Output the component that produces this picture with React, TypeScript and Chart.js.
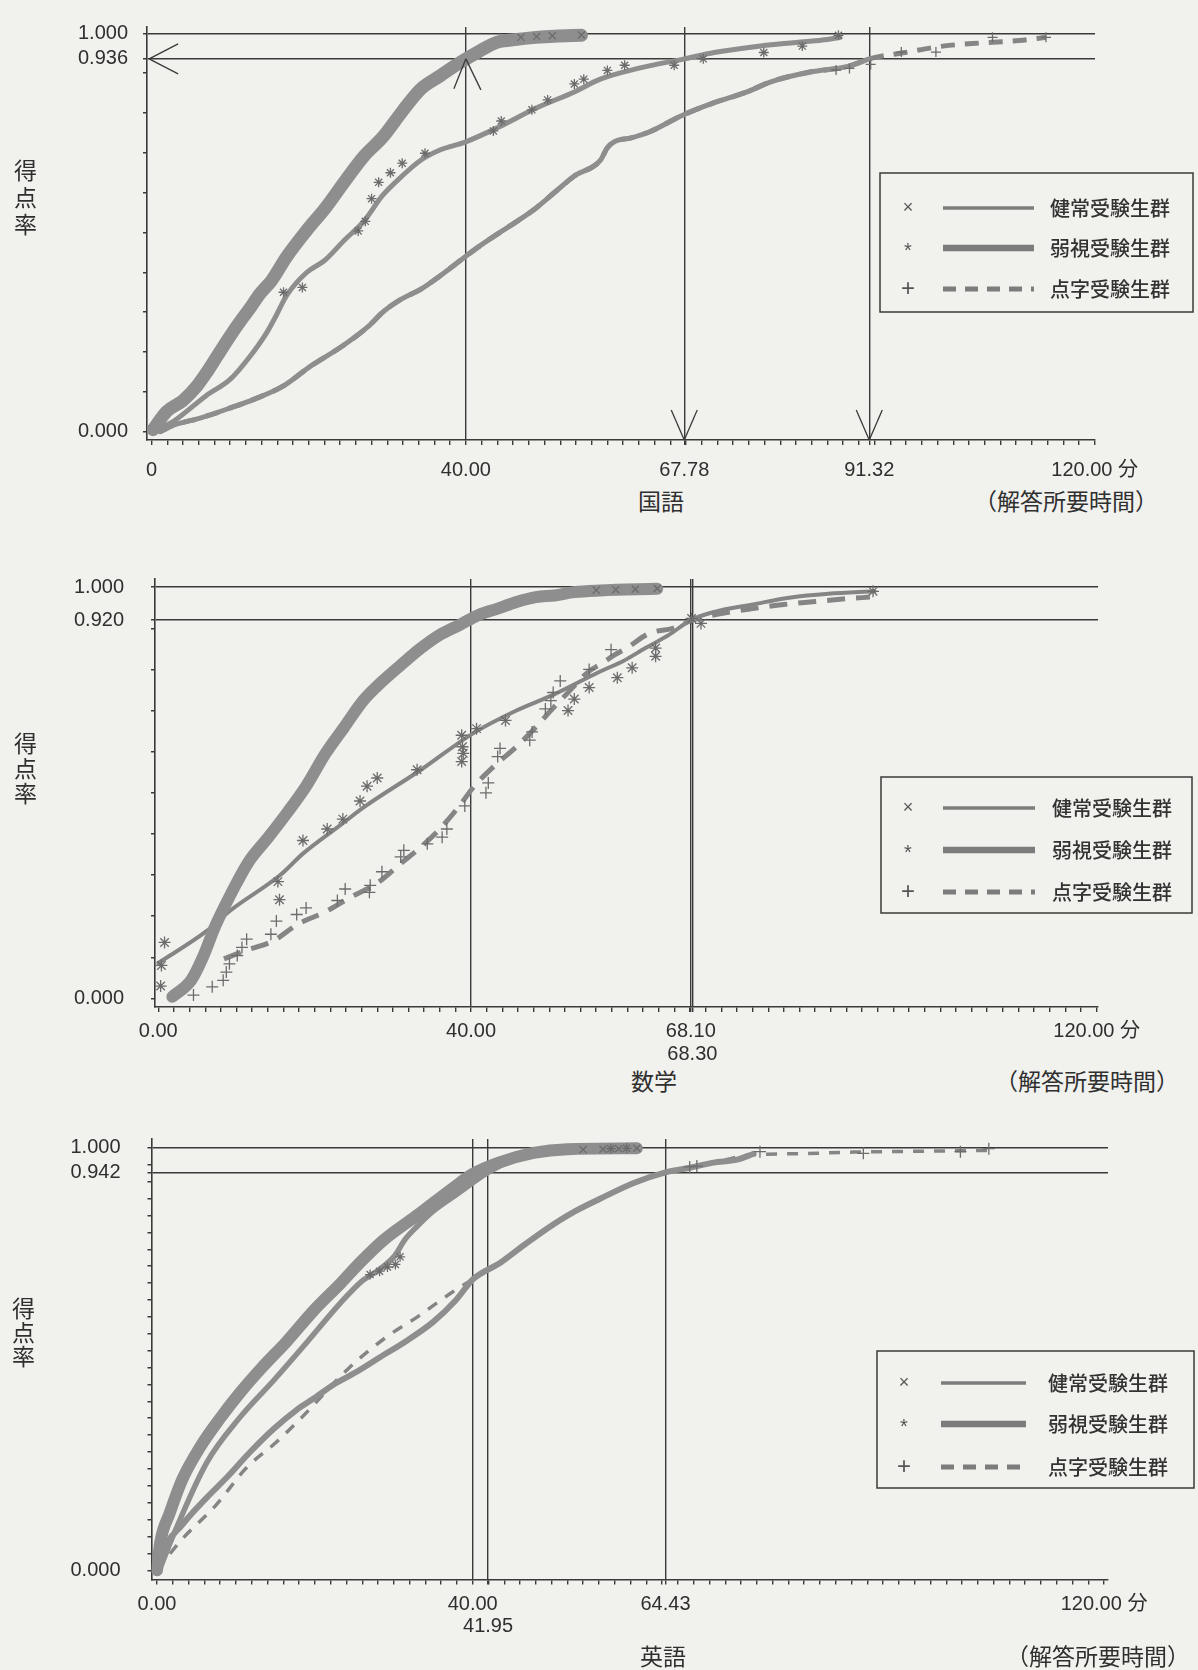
import React, { useEffect, useRef } from 'react';
import { Chart, registerables } from 'chart.js';

Chart.register(...registerables);

type Pt = [number, number];

// ---------- shared text ----------
const GROUP_NAMES = ['健常受験生群', '弱視受験生群', '点字受験生群'];
const GROUP_GLYPHS = ['×', '*', '+'];
const Y_TITLE = '得点率';
const UNIT_LABEL = '（解答所要時間）';

// ---------- 国語 ----------
const kokugoHealthy: Pt[] = [
  [0.2, 0.005], [1.9, 0.05], [4.0, 0.078], [5.8, 0.115], [7.0, 0.148], [8.3, 0.188], [10.0, 0.24],
  [11.3, 0.277], [12.5, 0.309], [13.8, 0.346], [15.3, 0.38], [17.2, 0.439], [19.7, 0.504], [22.1, 0.561],
  [24.5, 0.626], [27.0, 0.691], [29.4, 0.739], [31.9, 0.804], [34.3, 0.861], [36.7, 0.893], [39.2, 0.926],
  [41.6, 0.954], [44.0, 0.978], [46.5, 0.985], [48.9, 0.99], [51.3, 0.993], [54.7, 0.995],
];
const kokugoHealthyMarks: Pt[] = [[47.0, 0.99], [49.0, 0.992], [51.0, 0.994], [54.7, 0.996]];
const kokugoLowVision: Pt[] = [
  [1.0, 0.008], [2.8, 0.026], [7.0, 0.091], [10.0, 0.131], [12.5, 0.188], [14.7, 0.25], [15.9, 0.293],
  [17.2, 0.342], [19.7, 0.399], [22.1, 0.431], [24.5, 0.48], [27.0, 0.528], [29.4, 0.593], [31.9, 0.642],
  [34.3, 0.682], [36.7, 0.707], [39.9, 0.727], [44.0, 0.763], [48.9, 0.812], [53.8, 0.853], [57.1, 0.885],
  [61.9, 0.912], [67.78, 0.936], [71.6, 0.952], [76.5, 0.966], [81.3, 0.976], [86.2, 0.985], [87.6, 0.99],
];
const kokugoLowVisionMarks: Pt[] = [
  [16.8, 0.35], [19.2, 0.362], [26.3, 0.504], [27.2, 0.528], [28.0, 0.585], [28.9, 0.626], [30.4, 0.65],
  [31.9, 0.674], [34.8, 0.699], [43.5, 0.755], [44.5, 0.78], [48.4, 0.808], [50.4, 0.833], [53.8, 0.873],
  [55.0, 0.885], [58.0, 0.907], [60.2, 0.92], [66.5, 0.92], [70.2, 0.936], [77.9, 0.952], [82.8, 0.968],
  [87.4, 0.995],
];
const kokugoBraille: Pt[] = [
  [1.1, 0.0], [2.8, 0.016], [6.2, 0.034], [10.4, 0.062], [12.1, 0.074], [16.8, 0.115], [20.2, 0.164],
  [24.3, 0.215], [27.4, 0.261], [29.6, 0.303], [31.9, 0.334], [34.3, 0.358], [36.7, 0.391], [39.9, 0.439],
  [41.6, 0.464], [44.0, 0.496], [46.5, 0.528], [48.9, 0.561], [51.3, 0.601], [53.8, 0.642], [57.1, 0.681],
  [58.0, 0.713], [59.0, 0.729], [60.9, 0.737], [63.4, 0.753], [67.5, 0.794], [71.6, 0.826], [75.5, 0.851],
  [78.9, 0.879], [83.8, 0.903], [88.6, 0.917], [91.32, 0.936], [95.9, 0.952], [100.7, 0.968],
  [105.6, 0.976], [110.4, 0.982], [113.8, 0.99],
];
const kokugoBrailleMarks: Pt[] = [
  [87.1, 0.908], [88.8, 0.912], [91.5, 0.922], [95.4, 0.953], [99.8, 0.953], [107.0, 0.99], [113.8, 0.99],
];
const kokugoXTicks = [0, 40, 67.78, 91.32, 120];
const kokugoXLabels: (string | string[])[] = ['0', '40.00', '67.78', '91.32', '120.00 分'];
const kokugoVLines = [40, 67.78, 91.32];
const kokugoYTicks = [0, 0.936, 1];
const kokugoYLabels = ['0.000', '0.936', '1.000'];
const kokugoHLines = [0.936, 1];

// ---------- 数学 ----------
const sugakuHealthy: Pt[] = [
  [1.8, 0.004], [4.2, 0.044], [5.7, 0.1], [7.2, 0.172], [8.6, 0.228], [10.0, 0.28], [11.7, 0.336],
  [14.0, 0.39], [16.5, 0.452], [18.9, 0.516], [21.4, 0.596], [23.8, 0.66], [26.2, 0.724], [28.7, 0.772],
  [31.1, 0.812], [33.6, 0.852], [36.0, 0.884], [38.5, 0.908], [40.9, 0.932], [43.4, 0.948], [45.8, 0.964],
  [48.3, 0.976], [50.7, 0.98], [53.2, 0.988], [56.5, 0.992], [63.8, 0.996],
];
const sugakuHealthyMarks: Pt[] = [[56.0, 0.993], [58.5, 0.994], [61.0, 0.995], [63.8, 0.997]];
const sugakuLowVision: Pt[] = [
  [0.0, 0.086], [6.2, 0.164], [9.1, 0.212], [15.6, 0.3], [18.5, 0.352], [23.2, 0.42], [26.3, 0.465],
  [33.6, 0.556], [40.2, 0.644], [45.8, 0.7], [50.7, 0.74], [56.5, 0.795], [59.4, 0.82], [62.3, 0.852],
  [65.3, 0.884], [68.1, 0.92], [71.1, 0.94], [76.0, 0.958], [80.9, 0.975], [85.7, 0.984], [91.6, 0.99],
];
const sugakuLowVisionMarks: Pt[] = [
  [0.3, 0.03], [0.4, 0.08], [0.8, 0.136], [15.3, 0.284], [15.5, 0.24], [18.5, 0.384], [21.6, 0.412],
  [23.6, 0.436], [25.8, 0.48], [26.7, 0.516], [28.0, 0.536], [33.1, 0.556], [38.8, 0.64], [38.9, 0.612],
  [39.0, 0.596], [38.8, 0.576], [40.7, 0.656], [44.4, 0.676], [52.4, 0.7], [53.2, 0.728], [55.1, 0.756],
  [58.7, 0.78], [60.6, 0.804], [63.6, 0.832], [63.6, 0.852], [68.2, 0.924], [69.4, 0.912], [91.4, 0.99],
];
const sugakuBraille: Pt[] = [
  [8.4, 0.096], [11.1, 0.116], [14.7, 0.14], [17.8, 0.18], [21.3, 0.21], [24.5, 0.245], [28.2, 0.283],
  [31.0, 0.328], [33.7, 0.37], [36.0, 0.412], [38.5, 0.468], [40.4, 0.516], [42.9, 0.564], [45.8, 0.612],
  [48.3, 0.66], [50.2, 0.7], [52.2, 0.74], [55.1, 0.796], [56.5, 0.812], [58.4, 0.836], [59.9, 0.852],
  [62.8, 0.888], [65.8, 0.9], [68.3, 0.92], [72.0, 0.936], [76.0, 0.948], [80.0, 0.958], [84.0, 0.965],
  [88.0, 0.972], [91.0, 0.976],
];
const sugakuBrailleMarks: Pt[] = [
  [4.5, 0.008], [6.9, 0.028], [8.3, 0.044], [8.7, 0.064], [9.1, 0.084], [10.1, 0.104], [10.7, 0.124],
  [11.3, 0.144], [14.4, 0.156], [15.1, 0.188], [17.7, 0.204], [18.9, 0.22], [22.9, 0.238], [23.9, 0.266],
  [27.0, 0.258], [27.1, 0.275], [28.6, 0.308], [31.0, 0.344], [31.4, 0.36], [34.4, 0.376], [36.3, 0.392],
  [36.9, 0.412], [39.2, 0.468], [41.9, 0.5], [42.2, 0.524], [43.4, 0.588], [43.7, 0.608], [47.5, 0.628],
  [47.8, 0.648], [49.5, 0.704], [50.2, 0.724], [50.5, 0.744], [51.4, 0.772], [55.1, 0.8], [57.9, 0.848],
];
const sugakuXTicks = [0, 40, 68.1, 68.3, 120];
const sugakuXLabels: (string | string[])[] = ['0.00', '40.00', '68.10', ['', '68.30'], '120.00 分'];
const sugakuVLines = [40, 68.1, 68.3];
const sugakuYTicks = [0, 0.92, 1];
const sugakuYLabels = ['0.000', '0.920', '1.000'];
const sugakuHLines = [0.92, 1];

// ---------- 英語 ----------
const eigoHealthy: Pt[] = [
  [0.0, 0.0], [0.4, 0.065], [1.6, 0.135], [3.2, 0.215], [5.5, 0.293], [8.0, 0.36], [10.5, 0.42],
  [13.3, 0.48], [16.5, 0.543], [19.9, 0.616], [23.3, 0.68], [25.7, 0.728], [28.6, 0.78], [33.3, 0.845],
  [37.5, 0.905], [40.0, 0.938], [43.3, 0.965], [47.7, 0.988], [52.0, 0.997], [60.8, 0.999],
];
const eigoHealthyMarks: Pt[] = [[54.0, 0.996], [56.5, 0.997], [58.5, 0.998], [60.8, 0.999]];
const eigoLowVision: Pt[] = [
  [0.3, 0.0], [2.0, 0.08], [6.3, 0.255], [10.5, 0.362], [14.8, 0.45], [19.0, 0.54], [23.2, 0.632],
  [26.0, 0.685], [28.0, 0.71], [30.0, 0.742], [31.5, 0.785], [33.0, 0.815], [35.0, 0.85], [38.0, 0.89],
  [41.95, 0.942], [45.0, 0.97], [50.0, 0.99], [55.0, 0.997], [59.5, 1.0],
];
const eigoLowVisionMarks: Pt[] = [
  [27.0, 0.7], [28.2, 0.708], [29.2, 0.718], [30.2, 0.724], [30.8, 0.742], [57.5, 0.998], [59.5, 0.999],
];
const eigoBraille: Pt[] = [
  [0.0, 0.0], [0.4, 0.031], [3.3, 0.11], [6.3, 0.172], [8.8, 0.219], [11.8, 0.28], [14.8, 0.335],
  [17.7, 0.38], [19.8, 0.406], [22.4, 0.44], [25.3, 0.47], [28.3, 0.505], [31.6, 0.543], [35.0, 0.588],
  [37.8, 0.638], [40.1, 0.69], [43.5, 0.728], [46.5, 0.77], [49.5, 0.81], [52.5, 0.845], [56.2, 0.88],
  [60.4, 0.917], [64.43, 0.942], [67.5, 0.953], [70.5, 0.965], [73.5, 0.972], [75.6, 0.986],
];
const eigoBrailleFit: Pt[] = [
  [0.0, 0.0], [3.0, 0.07], [7.5, 0.155], [11.3, 0.242], [15.1, 0.303], [18.5, 0.365], [24.1, 0.475],
  [28.9, 0.55], [33.0, 0.6], [37.3, 0.657], [40.1, 0.69], [43.5, 0.728], [46.5, 0.77], [49.5, 0.81],
  [52.5, 0.845], [56.2, 0.88], [60.4, 0.917], [64.43, 0.942], [67.5, 0.953], [70.5, 0.965], [75.6, 0.984],
  [81.1, 0.986], [88.3, 0.99], [96.3, 0.992], [105.4, 0.994],
];
const eigoBrailleMarks: Pt[] = [
  [67.5, 0.955], [68.4, 0.957], [76.4, 0.991], [89.5, 0.987], [101.8, 0.991], [105.4, 0.998],
];
const eigoXTicks = [0, 40, 41.95, 64.43, 120];
const eigoXLabels: (string | string[])[] = ['0.00', '40.00', ['', '41.95'], '64.43', '120.00 分'];
const eigoVLines = [40, 41.95, 64.43];
const eigoYTicks = [0, 0.942, 1];
const eigoYLabels = ['0.000', '0.942', '1.000'];
const eigoHLines = [0.942, 1];

// ---------- styling ----------
const BG = '#f1f1ee';
const AXIS = '#3a3a3a';
const TEXT = '#2f2f2f';
const BAND = '#8e8e8e';
const CURVE = '#858585';
const MARK = '#6c6c6c';
const NUM_FONT = "'Liberation Sans', Arial, 'Noto Sans CJK JP', sans-serif";
const JP_FONT = "'Noto Sans CJK JP', 'Noto Sans CJK SC', sans-serif";
const W = 1198;

const LEGEND_STYLES = [
  { width: 3.5, dash: [] as number[] },
  { width: 6.5, dash: [] as number[] },
  { width: 5, dash: [13, 9] },
];

interface Layout {
  top: number; height: number;
  area: { left: number; top: number; right: number; bottom: number };
  xMin: number; xMax: number; yMin: number; yMax: number; yStep: number;
  xPad: number; xLineHeight: number; yPad: number;
  legend: { x: number; y: number; w: number; h: number; rows: number[]; markX: number; lineX1: number; lineX2: number; textX: number };
  yTitle: { x: number; top: number; spacing: number };
  title: { x: number; y: number }; unit: { x: number; y: number };
}

const LAYOUTS: Layout[] = [
  {
    top: 0, height: 480, area: { left: 147, top: 14, right: 1095, bottom: 440 },
    xMin: -0.57, xMax: 120.04, yMin: -0.021, yMax: 1.016, yStep: 0.1, xPad: 14, xLineHeight: 1.1, yPad: 15,
    legend: { x: 880, y: 173, w: 313, h: 139, rows: [208, 248, 289], markX: 908, lineX1: 943, lineX2: 1034, textX: 1050 },
    yTitle: { x: 25, top: 158.5, spacing: 3.7 }, title: { x: 661, y: 500 }, unit: { x: 1066, y: 500 },
  },
  {
    top: 540, height: 520, area: { left: 155, top: 33, right: 1098, bottom: 467 },
    xMin: -0.42, xMax: 120.17, yMin: -0.021, yMax: 1.02, yStep: 0.1, xPad: 8, xLineHeight: 1.15, yPad: 27,
    legend: { x: 881, y: 237, w: 311, h: 136, rows: [268, 310, 352], markX: 908, lineX1: 943, lineX2: 1035, textX: 1052 },
    yTitle: { x: 25, top: 731.5, spacing: 2 }, title: { x: 654, y: 1080 }, unit: { x: 1087, y: 1080 },
  },
  {
    top: 1100, height: 540, area: { left: 151.5, top: 32, right: 1108, bottom: 479.6 },
    xMin: -0.7, xMax: 120.5, yMin: -0.022, yMax: 1.021, yStep: 0.04, xPad: 9, xLineHeight: 1.1, yPad: 27,
    legend: { x: 877, y: 251, w: 317, h: 137, rows: [283, 324, 367], markX: 904, lineX1: 941, lineX2: 1026, textX: 1048 },
    yTitle: { x: 23, top: 1296.5, spacing: 1 }, title: { x: 663, y: 1655 }, unit: { x: 1098, y: 1655 },
  },
];

const xy = (pts: Pt[]) => pts.map(([x, y]) => ({ x, y }));

function lineDs(label: string, pts: Pt[], width: number, color: string, dash: number[] = []) {
  return {
    label, data: xy(pts), borderColor: color, backgroundColor: color, borderWidth: width,
    borderDash: dash, pointRadius: 0, fill: false, cubicInterpolationMode: 'monotone',
    borderCapStyle: dash.length ? 'butt' : 'round', borderJoinStyle: 'round',
  };
}
function markDs(label: string, pts: Pt[], style: string, radius: number) {
  return {
    label, data: xy(pts), showLine: false, pointStyle: style, pointRadius: radius,
    pointBorderColor: MARK, pointBackgroundColor: MARK, pointBorderWidth: 1.3,
    borderColor: MARK, backgroundColor: MARK,
  };
}

function makeTicks(step: number, max: number, extra: number[]) {
  const vals: number[] = [];
  const n = Math.round(max / step);
  for (let i = 0; i <= n; i++) vals.push(Math.round(i * step * 1000) / 1000);
  extra.forEach((e) => { if (!vals.some((v) => Math.abs(v - e) < 1e-6)) vals.push(e); });
  return vals.sort((a, b) => a - b);
}
const lookup = (vals: number[], labels: (string | string[])[]) => (v: number) => {
  const i = vals.findIndex((t) => Math.abs(t - v) < 1e-6);
  return i >= 0 ? labels[i] : '';
};
const isIn = (list: number[], v: number | undefined) =>
  v !== undefined && list.some((l) => Math.abs(l - v) < 1e-6);

interface PanelDef {
  subject: string;
  datasets: any[];
  xTicks: number[]; xLabels: (string | string[])[]; vLines: number[];
  yTicks: number[]; yLabels: string[]; hLines: number[];
  arrows: { x: number; y: number | null; dir: 'left' | 'up' | 'down' }[];
}

const PANELS: PanelDef[] = [
  {
    subject: '国語',
    datasets: [
      markDs('健常 marks', kokugoHealthyMarks, 'crossRot', 5),
      markDs('弱視 marks', kokugoLowVisionMarks, 'star', 5),
      markDs('点字 marks', kokugoBrailleMarks, 'cross', 5),
      lineDs(GROUP_NAMES[0], kokugoHealthy, 13, BAND),
      lineDs(GROUP_NAMES[1], kokugoLowVision, 5, BAND),
      lineDs(GROUP_NAMES[2] + ' band', kokugoBraille.filter((p) => p[0] <= 91.32), 5, BAND),
      lineDs(GROUP_NAMES[2], kokugoBraille, 5, CURVE, [14, 10]),
    ],
    xTicks: kokugoXTicks, xLabels: kokugoXLabels, vLines: kokugoVLines,
    yTicks: kokugoYTicks, yLabels: kokugoYLabels, hLines: kokugoHLines,
    arrows: [
      { x: -0.3, y: 0.936, dir: 'left' },
      { x: 40, y: 0.936, dir: 'up' },
      { x: 67.78, y: null, dir: 'down' },
      { x: 91.32, y: null, dir: 'down' },
    ],
  },
  {
    subject: '数学',
    datasets: [
      markDs('健常 marks', sugakuHealthyMarks, 'crossRot', 5),
      markDs('弱視 marks', sugakuLowVisionMarks, 'star', 6),
      markDs('点字 marks', sugakuBrailleMarks, 'cross', 6),
      lineDs(GROUP_NAMES[0], sugakuHealthy, 12, BAND),
      lineDs(GROUP_NAMES[1], sugakuLowVision, 4, CURVE),
      lineDs(GROUP_NAMES[2], sugakuBraille, 5, CURVE, [18, 11]),
    ],
    xTicks: sugakuXTicks, xLabels: sugakuXLabels, vLines: sugakuVLines,
    yTicks: sugakuYTicks, yLabels: sugakuYLabels, hLines: sugakuHLines,
    arrows: [],
  },
  {
    subject: '英語',
    datasets: [
      markDs('健常 marks', eigoHealthyMarks, 'crossRot', 5),
      markDs('弱視 marks', eigoLowVisionMarks, 'star', 5),
      markDs('点字 marks', eigoBrailleMarks, 'cross', 6),
      lineDs(GROUP_NAMES[0], eigoHealthy, 12, BAND),
      lineDs(GROUP_NAMES[1], eigoLowVision, 5.5, BAND),
      lineDs(GROUP_NAMES[2] + ' band', eigoBraille, 6, BAND),
      lineDs(GROUP_NAMES[2], eigoBrailleFit, 3.5, CURVE, [11, 10]),
    ],
    xTicks: eigoXTicks, xLabels: eigoXLabels, vLines: eigoVLines,
    yTicks: eigoYTicks, yLabels: eigoYLabels, hLines: eigoHLines,
    arrows: [],
  },
];

function legendPlugin(L: Layout) {
  return {
    id: 'groupLegend',
    afterDraw(chart: any) {
      const ctx = chart.ctx;
      const g = L.legend;
      ctx.save();
      ctx.strokeStyle = AXIS;
      ctx.lineWidth = 1.5;
      ctx.strokeRect(g.x, g.y, g.w, g.h);
      GROUP_NAMES.forEach((name, i) => {
        const ry = g.rows[i];
        ctx.fillStyle = '#555';
        ctx.textAlign = 'center';
        ctx.textBaseline = 'middle';
        ctx.font = `${i === 2 ? 24 : i === 1 ? 20 : 18}px ${NUM_FONT}`;
        ctx.fillText(GROUP_GLYPHS[i], g.markX, ry + (i === 1 ? 3 : 0));
        const st = LEGEND_STYLES[i];
        ctx.strokeStyle = '#7c7c7c';
        ctx.lineWidth = st.width;
        ctx.setLineDash(st.dash);
        ctx.beginPath();
        ctx.moveTo(g.lineX1, ry);
        ctx.lineTo(g.lineX2, ry);
        ctx.stroke();
        ctx.setLineDash([]);
        ctx.fillStyle = '#333';
        ctx.textAlign = 'left';
        ctx.font = `500 20px ${JP_FONT}`;
        ctx.fillText(name, g.textX, ry);
      });
      ctx.restore();
    },
  };
}

function arrowPlugin(arrows: PanelDef['arrows']) {
  return {
    id: 'refArrows',
    afterDraw(chart: any) {
      const { ctx, scales } = chart;
      ctx.save();
      ctx.strokeStyle = AXIS;
      ctx.lineWidth = 1.3;
      arrows.forEach((a) => {
        const px = scales.x.getPixelForValue(a.x);
        const py = a.y === null ? chart.chartArea.bottom : scales.y.getPixelForValue(a.y);
        const arms = a.dir === 'left' ? [[29, -15], [29, 15]] : a.dir === 'up' ? [[-12, 30], [15, 31]] : [[-13, -30], [13, -30]];
        arms.forEach(([dx, dy]) => {
          ctx.beginPath();
          ctx.moveTo(px + dx, py + dy);
          ctx.lineTo(px, py);
          ctx.stroke();
        });
      });
      ctx.restore();
    },
  };
}

function buildConfig(p: PanelDef, L: Layout): any {
  const xVals = makeTicks(2, 120, p.xTicks);
  const yVals = makeTicks(L.yStep, 1, p.yTicks);
  const xLabel = lookup(p.xTicks, p.xLabels);
  const yLabel = lookup(p.yTicks, p.yLabels);
  return {
    type: 'line',
    data: { datasets: p.datasets },
    options: {
      animation: false,
      responsive: false,
      devicePixelRatio: 1,
      events: [],
      layout: { autoPadding: false, padding: { left: 0, top: L.area.top, right: W - L.area.right, bottom: 0 } },
      plugins: { legend: { display: false }, tooltip: { enabled: false } },
      scales: {
        x: {
          type: 'linear', min: L.xMin, max: L.xMax, bounds: 'data',
          afterBuildTicks: (s: any) => { s.ticks = xVals.map((v) => ({ value: v })); },
          afterFit: (s: any) => { s.height = L.height - L.area.bottom; },
          ticks: {
            autoSkip: false, maxRotation: 0, minRotation: 0, padding: L.xPad, color: TEXT,
            font: { family: NUM_FONT, size: 20, lineHeight: L.xLineHeight },
            callback: (v: number) => xLabel(v),
          },
          grid: {
            color: (c: any) => (isIn(p.vLines, c.tick?.value) ? AXIS : 'rgba(0,0,0,0)'),
            lineWidth: 1.4, tickColor: AXIS, tickLength: 5, drawTicks: true,
          },
          border: { display: true, color: AXIS, width: 1.6 },
        },
        y: {
          type: 'linear', position: 'left', min: L.yMin, max: L.yMax, bounds: 'data',
          afterBuildTicks: (s: any) => { s.ticks = yVals.map((v) => ({ value: v })); },
          afterFit: (s: any) => { s.width = L.area.left; },
          ticks: {
            autoSkip: false, padding: L.yPad, color: TEXT,
            font: { family: NUM_FONT, size: 20 },
            callback: (v: number) => yLabel(v),
          },
          grid: {
            color: (c: any) => (isIn(p.hLines, c.tick?.value) ? AXIS : 'rgba(0,0,0,0)'),
            lineWidth: 1.5, tickColor: AXIS, tickLength: 4, drawTicks: true,
          },
          border: { display: true, color: AXIS, width: 1.6 },
        },
      },
    },
    plugins: [legendPlugin(L), arrowPlugin(p.arrows)],
  };
}

function PanelChart({ panel, layout }: { panel: PanelDef; layout: Layout }) {
  const ref = useRef<HTMLCanvasElement | null>(null);
  useEffect(() => {
    if (!ref.current) return;
    const chart = new Chart(ref.current, buildConfig(panel, layout));
    return () => chart.destroy();
  }, [panel, layout]);
  return (
    <canvas
      ref={ref}
      width={W}
      height={layout.height}
      style={{ position: 'absolute', left: 0, top: layout.top, width: W, height: layout.height }}
    />
  );
}

const textBase: React.CSSProperties = {
  position: 'absolute',
  fontFamily: JP_FONT,
  color: TEXT,
  whiteSpace: 'nowrap',
  lineHeight: 1,
};

export default function App() {
  return (
    <div style={{ position: 'absolute', left: 0, top: 0, width: W, height: 1670, background: BG, overflow: 'hidden' }}>
      {PANELS.map((p, i) => {
        const L = LAYOUTS[i];
        return (
          <React.Fragment key={p.subject}>
            <PanelChart panel={p} layout={L} />
            <div
              style={{
                ...textBase, left: L.yTitle.x, top: L.yTitle.top, fontSize: 23,
                writingMode: 'vertical-rl', letterSpacing: L.yTitle.spacing, transform: 'translateX(-50%)',
              }}
            >
              {Y_TITLE}
            </div>
            <div style={{ ...textBase, left: L.title.x, top: L.title.y, fontSize: 23, transform: 'translate(-50%, -50%)' }}>
              {p.subject}
            </div>
            <div style={{ ...textBase, left: L.unit.x, top: L.unit.y, fontSize: 23, transform: 'translate(-50%, -50%)' }}>
              {UNIT_LABEL}
            </div>
          </React.Fragment>
        );
      })}
    </div>
  );
}
